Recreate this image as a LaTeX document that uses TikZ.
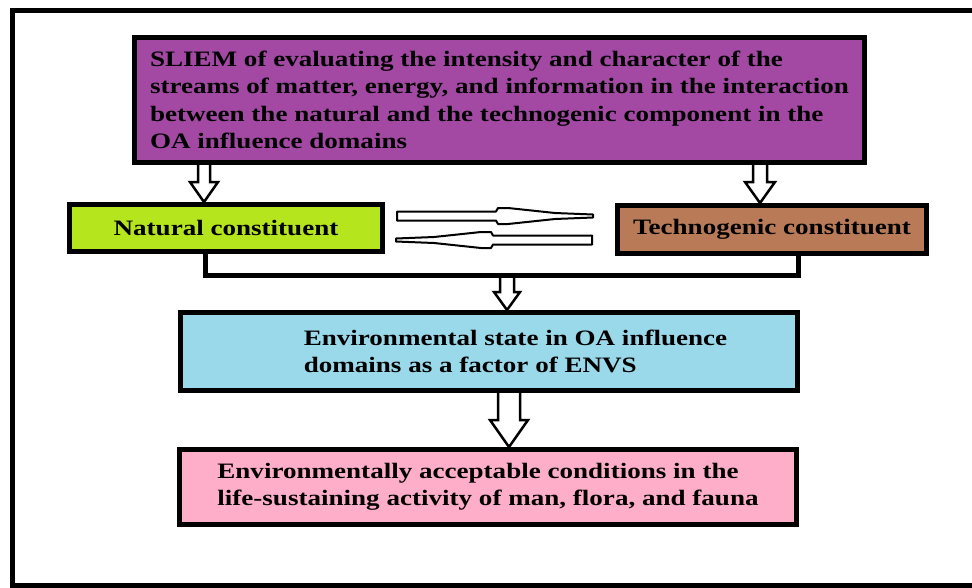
\documentclass[tikz,border=0pt]{standalone}
\usepackage{fontspec}
\newfontfamily\boxfont{Liberation Serif}[FakeStretch=1.23]
\usetikzlibrary{positioning,calc}

\definecolor{sliemcol}{HTML}{A349A4}
\definecolor{natcol}{HTML}{B5E61D}
\definecolor{techcol}{HTML}{B97A57}
\definecolor{envcol}{HTML}{99D9EA}
\definecolor{acccol}{HTML}{FFAEC9}

\newcommand{\hollowarrow}[5]{%
  \draw[hollow] ($(#1)+(-#3,0)$) -- ($(#2)+(-#3,-#5)$) -- ($(#2)+(-#4,-#5)$) -- (#2)
    -- ($(#2)+(#4,-#5)$) -- ($(#2)+(#3,-#5)$) -- ($(#1)+(#3,0)$);}

\begin{document}
\begin{tikzpicture}[x=1pt, y=-1pt,
    box/.style = {draw, line width=5pt, align=left, inner sep=0pt,
      font=\boxfont\fontsize{22}{27.5}\selectfont\bfseries},
    hollow/.style = {fill=white, line width=2.5pt, line join=miter},
    link/.style = {line width=5pt},
    pics/stream/.style = {code={
      \draw[line width=2pt, line join=round, fill=white] (0,-4.5) -- (99,-4.5) -- (101,-8) -- (111,-8)
        -- (158,-3) -- (196,-1.5) -- (196,1.5) -- (158,3) -- (111,8) -- (101,8) -- (99,4.5) -- (0,4.5) -- cycle;}}]
    \useasboundingbox (0,0) rectangle (972,587);
    \clip (0,0) rectangle (972,587);
    \draw[line width=5pt] (12,10) rectangle (990,585);

    \node[box, fill=sliemcol, minimum width=730pt, minimum height=125pt] (sliem) at (499.5,100)
      {SLIEM of evaluating the intensity and character of the\\
       streams of matter, energy, and information in the interaction\\
       between the natural and the technogenic component in the\\
       OA influence domains};
    \node[box, fill=natcol, minimum width=313pt, minimum height=47pt] (natural) at (226,228) {Natural constituent};
    \node[box, fill=techcol, minimum width=309pt, minimum height=48pt] (techno) at (772,229.5) {Technogenic constituent};
    \node[box, fill=envcol, minimum width=617pt, minimum height=78pt] (envstate) at (489,351.5)
      {\hspace*{53pt}Environmental state in OA influence\\
       \hspace*{53pt}domains as a factor of ENVS};
    \node[box, fill=acccol, minimum width=617pt, minimum height=75pt] (accept) at (488,487)
      {Environmentally acceptable conditions in the\\
       life-sustaining activity of man, flora, and fauna};

    \coordinate (nt) at ([xshift=-22pt]natural.north);
    \coordinate (ns) at (nt |- sliem.south);
    \coordinate (tt) at ([xshift=-12pt]techno.north);
    \coordinate (ts) at (tt |- sliem.south);
    \coordinate (merge) at (507,275);
    \coordinate (et) at (merge |- envstate.north);
    \coordinate (es) at ([xshift=20pt]envstate.south);
    \coordinate (at) at (es |- accept.north);

    \hollowarrow{ns}{nt}{6}{14}{20}
    \hollowarrow{ts}{tt}{7}{15}{21}
    \hollowarrow{merge}{et}{7}{13}{18}
    \hollowarrow{es}{at}{11}{19}{27}

    \draw[link] ([xshift=-21pt]natural.south) |- (merge) -| ([xshift=26pt]techno.south);

    \pic at (397,216) {stream};
    \pic[xscale=-1] at (592,240) {stream};
\end{tikzpicture}
\end{document}
